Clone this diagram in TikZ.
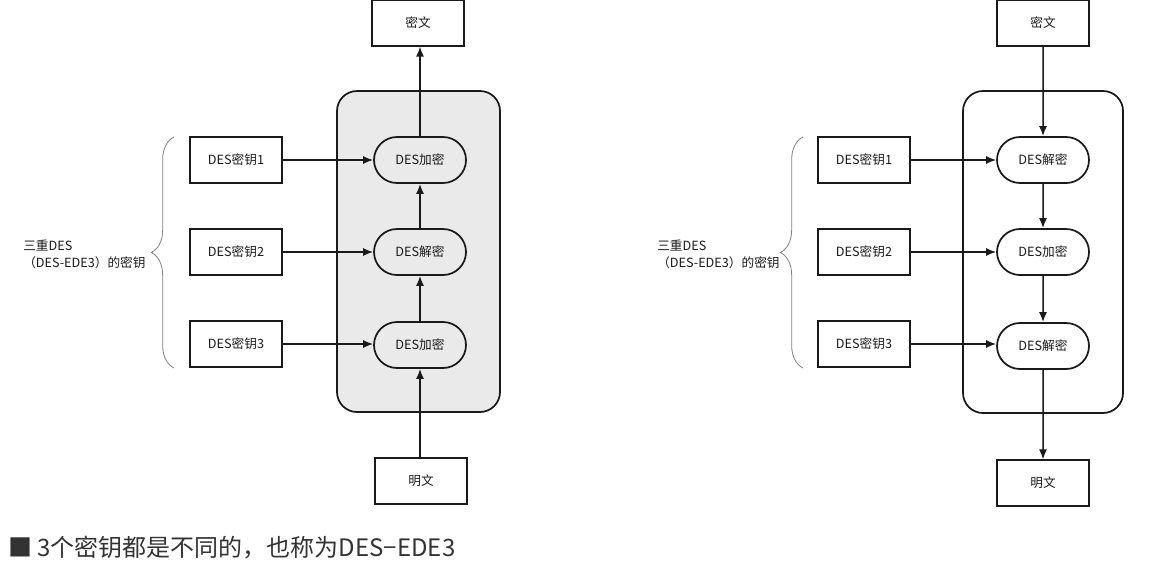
\documentclass[tikz,border=0pt]{standalone}
\usepackage{fontspec}
\newfontfamily\cjk{Noto Sans CJK SC}
\usetikzlibrary{arrows.meta,shapes.misc,decorations.pathreplacing}
\definecolor{ink}{HTML}{1A1A1A}
\definecolor{capt}{HTML}{333333}
\definecolor{panel}{HTML}{EAEAEA}
\begin{document}
\begin{tikzpicture}[x=0.75pt,y=-0.75pt,
  every node/.style={font=\cjk\fontsize{9.5}{11}\selectfont, text=ink},
  box/.style={draw=ink, line width=1.3pt, minimum width=69pt, minimum height=34pt, inner sep=0pt},
  op/.style={rounded rectangle, draw=ink, line width=1.3pt, minimum width=69pt, minimum height=34.5pt, inner sep=0pt},
  arr/.style={-{Latex[length=7.5pt,width=6pt]}, line width=1.15pt, draw=ink},
  frame/.style={draw=ink, line width=1.3pt, rounded corners=15pt},
  bracestyle/.style={draw=gray, line width=0.6pt, decorate, decoration={brace, amplitude=17pt}},
  lbl/.style={align=left, anchor=west, inner sep=0pt, font=\cjk\fontsize{9.5}{12.5}\selectfont}
]
\useasboundingbox (0,0) rectangle (1159,561);

% ---------- left diagram ----------
\draw[frame, fill=panel] (337,91) rectangle (500,412);
\node[box] (ctL) at (418,23) {密文};
\node[op] (e1) at (420,160) {DES加密};
\node[op] (d2) at (420,252) {DES解密};
\node[op] (e3) at (420,345) {DES加密};
\node[box] (ptL) at (421,481) {明文};
\node[box, fill=white] (k1L) at (236,160) {DES密钥1};
\node[box, fill=white] (k2L) at (236,252) {DES密钥2};
\node[box, fill=white] (k3L) at (236,344) {DES密钥3};
\draw[arr] (k1L) -- (e1);
\draw[arr] (k2L) -- (d2);
\draw[arr] (k3L.east) -- (k3L.east -| e3.west);
\draw[arr] (ptL.north -| e3) -- (e3);
\draw[arr] (e3) -- (d2);
\draw[arr] (d2) -- (e1);
\draw[arr] (e1.north) -- (e1.north |- ctL.south);
\coordinate (bLb) at (174,368);
\coordinate (bLt) at (174,137);
\draw[bracestyle] (bLb) -- (bLt);
\node[lbl] (labL) at (23,254) {三重DES\\（DES-EDE3）的密钥};

% ---------- right diagram ----------
\draw[frame] (963,91) rectangle (1123,413);
\node[box] (ctR) at (1043,23) {密文};
\node[op, fill=white] (d1) at (1043,160) {DES解密};
\node[op, fill=white] (e2) at (1043,252) {DES加密};
\node[op, fill=white] (d3) at (1043,346) {DES解密};
\node[box] (ptR) at (1043,483) {明文};
\node[box, fill=white] (k1R) at (864,160) {DES密钥1};
\node[box, fill=white] (k2R) at (864,252) {DES密钥2};
\node[box, fill=white] (k3R) at (864,344) {DES密钥3};
\draw[arr] (k1R) -- (d1);
\draw[arr] (k2R) -- (e2);
\draw[arr] (k3R.east) -- (k3R.east -| d3.west);
\draw[arr] (ctR) -- (d1);
\draw[arr] (d1) -- (e2);
\draw[arr] (e2) -- (d3);
\draw[arr] (d3) -- (ptR);
\coordinate (bRb) at (803,368);
\coordinate (bRt) at (803,137);
\draw[bracestyle] (bRb) -- (bRt);
\node[lbl] (labR) at (657,254) {三重DES\\（DES-EDE3）的密钥};

% ---------- caption ----------
\node[anchor=west, inner sep=0pt, text=capt, font=\cjk\fontsize{18}{20}\selectfont] (cap) at (8,548) {■ 3个密钥都是不同的，也称为DES−EDE3};
\end{tikzpicture}
\end{document}
